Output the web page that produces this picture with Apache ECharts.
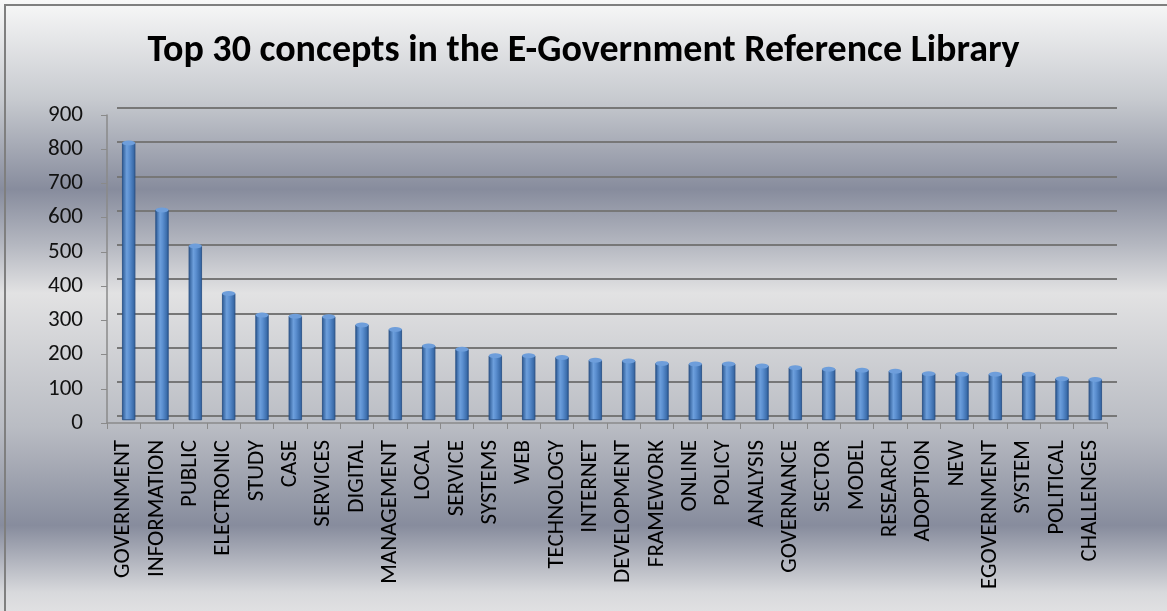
<!DOCTYPE html>
<html>
<head>
<meta charset="utf-8">
<script src="https://cdn.jsdelivr.net/npm/echarts@6/dist/echarts.min.js"></script>
<style>
  html, body { margin: 0; padding: 0; }
  #chart { width: 1167px; height: 611px; }
</style>
</head>
<body>
<div id="chart"></div>
<script>
// data
var concepts = ['GOVERNMENT', 'INFORMATION', 'PUBLIC', 'ELECTRONIC', 'STUDY', 'CASE', 'SERVICES',
  'DIGITAL', 'MANAGEMENT', 'LOCAL', 'SERVICE', 'SYSTEMS', 'WEB', 'TECHNOLOGY', 'INTERNET',
  'DEVELOPMENT', 'FRAMEWORK', 'ONLINE', 'POLICY', 'ANALYSIS', 'GOVERNANCE', 'SECTOR', 'MODEL',
  'RESEARCH', 'ADOPTION', 'NEW', 'EGOVERNMENT', 'SYSTEM', 'POLITICAL', 'CHALLENGES'];
var counts = [810, 614, 509, 370, 307, 304, 302, 278, 265, 217, 207, 188, 188, 183, 175,
  173, 166, 164, 164, 158, 153, 149, 146, 143, 136, 134, 134, 134, 121, 119];
var yTicks = [0, 900, 100]; // min, max, step

var font = 'Carlito, "Open Sans", sans-serif';
var myChart = echarts.init(document.getElementById('chart'));

// cylinder look for the bars
var barFill = new echarts.graphic.LinearGradient(0, 0, 1, 0, [
  { offset: 0, color: '#2b5891' },
  { offset: 0.35, color: '#6d9fdc' },
  { offset: 0.55, color: '#5b8fd0' },
  { offset: 1, color: '#2f5f9c' }
]);

var option = {
  backgroundColor: new echarts.graphic.LinearGradient(0, 0, 0, 1, [
    { offset: 0, color: '#f8f8f8' },
    { offset: 0.16, color: '#c8cbd0' },
    { offset: 0.31, color: '#878c9d' },
    { offset: 0.40, color: '#b4b7c0' },
    { offset: 0.48, color: '#e2e2e3' },
    { offset: 0.70, color: '#b9bcc3' },
    { offset: 0.86, color: '#878c9d' },
    { offset: 0.97, color: '#d8d9dc' },
    { offset: 1, color: '#e0e0e2' }
  ]),
  title: {
    text: 'Top 30 concepts in the E-Government Reference Library',
    left: 'center',
    top: 27,
    textStyle: { fontFamily: font, fontWeight: 'bold', fontSize: 38, color: '#000' }
  },
  graphic: [{
    type: 'rect',
    shape: { x: 5, y: 5, width: 1300, height: 800 },
    style: { fill: 'none', stroke: '#7f7f7f', lineWidth: 2 },
    silent: true
  }],
  grid: [
    // back wall (gridlines)
    { left: 117, width: 1000, top: 108, height: 308 },
    // bars
    { left: 112, width: 1000, top: 112, height: 308 },
    // front axes with labels
    { left: 107, width: 1000, top: 115, height: 308 }
  ],
  xAxis: [
    { gridIndex: 0, type: 'category', data: concepts, show: false },
    { gridIndex: 1, type: 'category', data: concepts, show: false },
    {
      gridIndex: 2, type: 'category', data: concepts,
      axisLine: { lineStyle: { color: '#8a8a8a', width: 1.5 } },
      axisTick: { show: true, length: 6, lineStyle: { color: '#8a8a8a' } },
      axisLabel: {
        rotate: 90, interval: 0, margin: 17,
        fontFamily: font, fontSize: 23, color: '#000'
      }
    }
  ],
  yAxis: [
    {
      gridIndex: 0, type: 'value', min: yTicks[0], max: yTicks[1], interval: yTicks[2],
      axisLine: { show: false }, axisTick: { show: false }, axisLabel: { show: false },
      splitLine: { lineStyle: { color: '#777', width: 2 } }
    },
    {
      gridIndex: 1, type: 'value', min: yTicks[0], max: yTicks[1], interval: yTicks[2],
      show: false, splitLine: { show: false }
    },
    {
      gridIndex: 2, type: 'value', min: yTicks[0], max: yTicks[1], interval: yTicks[2],
      axisLine: { show: true, lineStyle: { color: '#8a8a8a', width: 1.5 } },
      axisTick: { show: true, length: 6, lineStyle: { color: '#8a8a8a' } },
      splitLine: { show: false },
      axisLabel: { margin: 24, fontFamily: font, fontSize: 23, color: '#111' }
    }
  ],
  series: [
    {
      name: 'concepts',
      type: 'bar',
      xAxisIndex: 1,
      yAxisIndex: 1,
      barWidth: 13,
      itemStyle: { color: barFill, borderColor: '#2a5288', borderWidth: 0.6 },
      data: counts
    },
    {
      // elliptic cap on top of each cylinder
      name: 'caps',
      type: 'pictorialBar',
      xAxisIndex: 1,
      yAxisIndex: 1,
      symbol: 'circle',
      symbolSize: [13, 5],
      symbolPosition: 'end',
      symbolOffset: [0, '-50%'],
      itemStyle: { color: '#6e9edb', borderColor: '#2a5288', borderWidth: 0.6 },
      z: 3,
      data: counts
    }
  ]
};

myChart.setOption(option);
</script>
</body>
</html>
